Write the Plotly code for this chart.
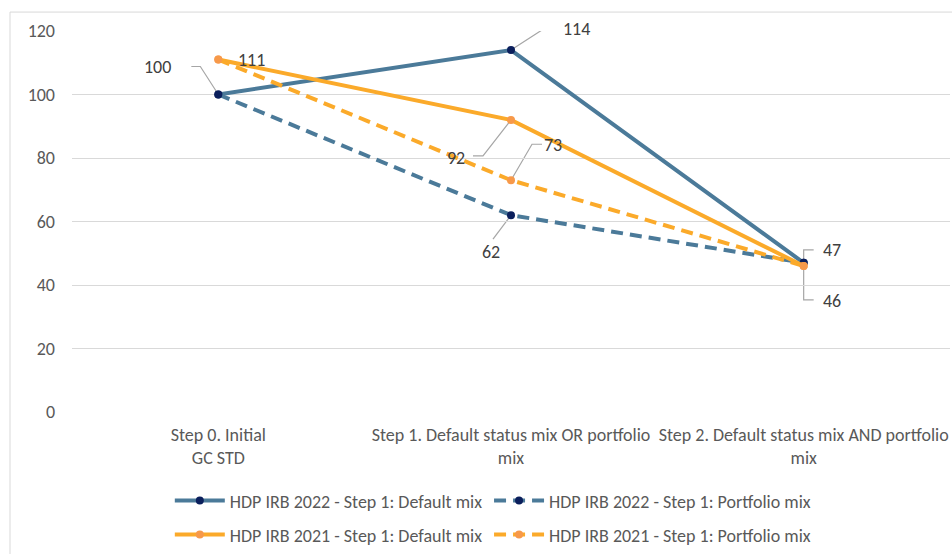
import plotly.graph_objects as go

# Categories (steps) and series values
categories = [
    "Step 0. Initial<br>GC STD",
    "Step 1. Default status mix OR portfolio<br>mix",
    "Step 2. Default status mix AND portfolio<br>mix",
]
hdp2022_default = [100, 114, 47]
hdp2022_portfolio = [100, 62, 47]
hdp2021_default = [111, 92, 46]
hdp2021_portfolio = [111, 73, 46]
y_ticks = [0, 20, 40, 60, 80, 100, 120]

FONT = "Carlito, 'Liberation Sans Narrow', 'Liberation Sans', Arial, sans-serif"
BLUE = "#4B7A99"
NAVY = "#0B1F5C"
ORANGE = "#FBAA2A"
ORANGE_MK = "#F7994A"
TXT = "#595959"
FS = 18

xs = list(range(len(categories)))

# (name, values, line colour, marker colour, dash, legend id)
series = [
    ("HDP IRB 2022 - Step 1: Default mix", hdp2022_default, BLUE, NAVY, "solid", "legend"),
    ("HDP IRB 2022 - Step 1: Portfolio mix", hdp2022_portfolio, BLUE, NAVY, "12px,7px", "legend2"),
    ("HDP IRB 2021 - Step 1: Default mix", hdp2021_default, ORANGE, ORANGE_MK, "solid", "legend3"),
    ("HDP IRB 2021 - Step 1: Portfolio mix", hdp2021_portfolio, ORANGE, ORANGE_MK, "12px,7px", "legend4"),
]

fig = go.Figure()
for name, vals, lc, mc, dash, lg in series:
    fig.add_trace(go.Scatter(
        x=xs, y=vals, name=name, mode="lines+markers",
        line=dict(color=lc, width=4, dash=dash),
        marker=dict(color=mc, size=8),
        legend=lg,
    ))

# Data label placement: (series values, point index, text offset px, leader path px)
label_specs = [
    (hdp2022_default, 0, (-61, 28), "M0,0 L-18,28 L-27,28"),
    (hdp2021_default, 0, (33, 0), None),
    (hdp2022_default, 1, (65, 21), "M0,0 L34,22 L42,22"),
    (hdp2021_default, 1, (-55, -38), "M0,0 L-28,-36 L-38,-36"),
    (hdp2021_portfolio, 1, (42, 35), "M0,0 L21,36 L31,36"),
    (hdp2022_portfolio, 1, (-20, -37), "M0,0 L-18,-24"),
    (hdp2022_default, 2, (28, 13), "M0,0 L0,13 L10,13"),
    (hdp2021_default, 2, (28, -35), "M0,0 L0,-34 L10,-34"),
]

annotations = []
shapes = []
for vals, i, (dx, dy), path in label_specs:
    annotations.append(dict(
        x=xs[i], y=vals[i], xref="x", yref="y", text=str(vals[i]),
        showarrow=False, xshift=dx, yshift=dy,
        font=dict(family=FONT, size=FS, color="#404040"),
    ))
    if path:
        shapes.append(dict(
            type="path", xref="x", yref="y",
            xsizemode="pixel", ysizemode="pixel",
            xanchor=xs[i], yanchor=vals[i], path=path,
            line=dict(color="#A6A6A6", width=1.2), layer="below",
        ))

# Chart-area border
shapes.append(dict(
    type="rect", xref="paper", yref="paper",
    x0=-0.0706, x1=1.2, y0=-0.6, y1=1.0497,
    line=dict(color="#D9D9D9", width=1), layer="below",
))


def legend_box(x, y):
    return dict(
        orientation="h", x=x, y=y, xanchor="left", yanchor="middle",
        font=dict(family=FONT, size=FS, color=TXT),
        bgcolor="rgba(0,0,0,0)", itemwidth=50,
    )


col1, col2 = 0.1114, 0.475
row1, row2 = -0.230, -0.319

fig.update_layout(
    width=952, height=554,
    margin=dict(l=72, r=2, t=31, b=141),
    paper_bgcolor="white", plot_bgcolor="white",
    font=dict(family=FONT, size=FS, color=TXT),
    showlegend=True,
    legend=legend_box(col1, row1),
    legend2=legend_box(col2, row1),
    legend3=legend_box(col1, row2),
    legend4=legend_box(col2, row2),
    xaxis=dict(
        range=[-0.5, 2.5], tickmode="array", tickvals=xs, ticktext=categories,
        showgrid=False, zeroline=False, showline=False, ticks="",
        tickfont=dict(family=FONT, size=FS, color=TXT),
        ticklabelstandoff=10,
    ),
    yaxis=dict(
        range=[0, 120], tickmode="array", tickvals=y_ticks,
        showgrid=True, gridcolor="#D9D9D9", gridwidth=1,
        zeroline=False, showline=False, ticks="",
        tickfont=dict(family=FONT, size=FS, color=TXT),
        ticklabelstandoff=16,
    ),
    annotations=annotations,
    shapes=shapes,
)

fig.write_html("out.html")
